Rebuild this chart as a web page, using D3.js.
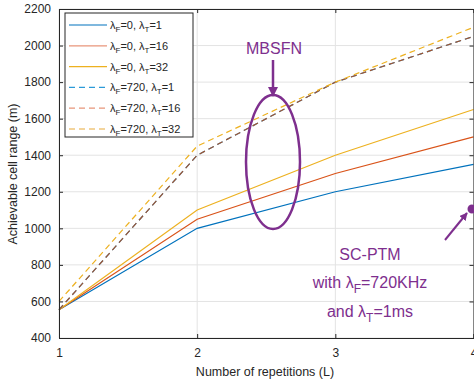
<!DOCTYPE html>
<html>
<head>
<meta charset="utf-8">
<script src="https://cdn.jsdelivr.net/npm/d3@7"></script>
<style>
  body { margin: 0; background: #fff; }
  text { font-family: "Liberation Sans", Arial, sans-serif; }
</style>
</head>
<body>
<svg id="viz"></svg>
<script>
// ----------------------------------------------------------------------------------------------------------------
// DATA

var repetitions = [1, 2, 3, 4];
var yTicks = [400, 600, 800, 1000, 1200, 1400, 1600, 1800, 2000, 2200];

var solidT1 = [555, 1000, 1200, 1350];
var solidT16 = [555, 1050, 1300, 1500];
var solidT32 = [555, 1100, 1400, 1650];
var dashedT1 = [555, 1400, 1800, 2050];
var dashedT16 = [555, 1400, 1800, 2050];
var dashedT32 = [600, 1450, 1800, 2100];

var series = [
  {lf: "0", lt: "1", values: solidT1, color: "#0072BD", legendColor: "#0072BD", dash: null},
  {lf: "0", lt: "16", values: solidT16, color: "#D95319", legendColor: "#E8957A", dash: null},
  {lf: "0", lt: "32", values: solidT32, color: "#EDB120", legendColor: "#EDB120", dash: null},
  {lf: "720", lt: "1", values: dashedT1, color: "#2C9AD8", legendColor: "#2C9AD8", dash: "6,4"},
  {lf: "720", lt: "16", values: dashedT16, color: "#A2542F", legendColor: "#E8957A", dash: "6,4"},
  {lf: "720", lt: "32", values: dashedT32, color: "#EDB120", legendColor: "#E8A93A", dash: "6,4"}
];

// ----------------------------------------------------------------------------------------------------------------
// INITIAL SETUP

var w = 474;
var h = 381;
var viz = d3.select("#viz").attr("width", w).attr("height", h);

var x = d3.scaleLinear().domain([1, 4]).range([59, 473.5]);
var y = d3.scaleLinear().domain([400, 2200]).range([338, 9]);
var purple = "#7E2F8E";

// grid
viz.append("g").selectAll("line.gx").data(repetitions).enter().append("line")
  .attr("x1", function(d) { return x(d); }).attr("x2", function(d) { return x(d); })
  .attr("y1", y(400)).attr("y2", y(2200))
  .attr("stroke", "#e3e3e3").attr("stroke-width", 1);
viz.append("g").selectAll("line.gy").data(yTicks).enter().append("line")
  .attr("x1", x(1)).attr("x2", x(4))
  .attr("y1", function(d) { return y(d); }).attr("y2", function(d) { return y(d); })
  .attr("stroke", "#e3e3e3").attr("stroke-width", 1);

// lines
var line = d3.line()
  .x(function(d, i) { return x(repetitions[i]); })
  .y(function(d) { return y(d); });

viz.append("g").selectAll("path").data(series).enter().append("path")
  .attr("d", function(d) { return line(d.values); })
  .attr("fill", "none")
  .attr("stroke", function(d) { return d.color; })
  .attr("stroke-width", 1.2)
  .attr("stroke-dasharray", function(d) { return d.dash; });

// axes
var xAxis = viz.append("g").attr("transform", "translate(0," + y(400) + ")")
  .call(d3.axisBottom(x).tickValues(repetitions).tickSize(-4).tickPadding(10).tickFormat(d3.format("d")));
var yAxis = viz.append("g").attr("transform", "translate(" + x(1) + ",0)")
  .call(d3.axisLeft(y).tickValues(yTicks).tickSize(-4).tickPadding(8).tickFormat(d3.format("d")));
var xTop = viz.append("g").attr("transform", "translate(0," + y(2200) + ")")
  .call(d3.axisTop(x).tickValues(repetitions).tickSize(-4).tickFormat(""));
var yRight = viz.append("g").attr("transform", "translate(" + x(4) + ",0)")
  .call(d3.axisRight(y).tickValues(yTicks).tickSize(-4).tickFormat(""));

[xAxis, yAxis, xTop, yRight].forEach(function(a) {
  a.selectAll("path").attr("stroke", "#262626").attr("stroke-width", 1);
  a.selectAll("line").attr("stroke", "#262626");
  a.selectAll("text").attr("fill", "#262626").style("font-size", "12px")
    .style("font-family", "Liberation Sans, Arial, sans-serif");
});

viz.append("text").attr("x", 265).attr("y", 376).attr("text-anchor", "middle")
  .attr("fill", "#262626").style("font-size", "12.5px").text("Number of repetitions (L)");
viz.append("text").attr("transform", "translate(17,174) rotate(-90)").attr("text-anchor", "middle")
  .attr("fill", "#262626").style("font-size", "12.5px").text("Achievable cell range (m)");

// legend
var legend = viz.append("g");
legend.append("rect").attr("x", 65).attr("y", 13).attr("width", 128).attr("height", 124)
  .attr("fill", "#fff").attr("stroke", "#262626").attr("stroke-width", 1);

var entries = legend.selectAll("g.entry").data(series).enter().append("g")
  .attr("transform", function(d, i) { return "translate(0," + (25 + i * 20.8) + ")"; });
entries.append("line").attr("x1", 69).attr("x2", 107).attr("y1", 0).attr("y2", 0)
  .attr("stroke", function(d) { return d.legendColor; })
  .attr("stroke-width", 1.2)
  .attr("stroke-dasharray", function(d) { return d.dash; });
var lt = entries.append("text").attr("x", 110).attr("y", 4).attr("fill", "#262626").style("font-size", "11px");
lt.append("tspan").text("\u03bb");
lt.append("tspan").attr("dy", 3).style("font-size", "8px").text("F");
lt.append("tspan").attr("dy", -3).text(function(d) { return "=" + d.lf + ", \u03bb"; });
lt.append("tspan").attr("dy", 3).style("font-size", "8px").text("T");
lt.append("tspan").attr("dy", -3).text(function(d) { return "=" + d.lt; });

// annotations
var defs = viz.append("defs");
defs.append("marker").attr("id", "ah").attr("viewBox", "0 0 10 10").attr("refX", 9).attr("refY", 5)
  .attr("markerWidth", 4).attr("markerHeight", 4).attr("orient", "auto")
  .append("path").attr("d", "M0,0 L10,5 L0,10 z").attr("fill", purple);

viz.append("text").attr("x", 274).attr("y", 54).attr("text-anchor", "middle")
  .attr("fill", purple).style("font-size", "16px").text("MBSFN");
viz.append("line").attr("x1", 273).attr("x2", 273).attr("y1", 60).attr("y2", 96)
  .attr("stroke", purple).attr("stroke-width", 2.5).attr("marker-end", "url(#ah)");
viz.append("ellipse").attr("cx", 273).attr("cy", 162).attr("rx", 27).attr("ry", 67)
  .attr("fill", "none").attr("stroke", purple).attr("stroke-width", 2.5);

viz.append("circle").attr("cx", 472).attr("cy", 209).attr("r", 4.5).attr("fill", purple);
viz.append("line").attr("x1", 445).attr("x2", 467).attr("y1", 240).attr("y2", 213)
  .attr("stroke", purple).attr("stroke-width", 2).attr("marker-end", "url(#ah)");

var ann = viz.append("g").attr("fill", purple).style("font-size", "16px").attr("text-anchor", "middle");
ann.append("text").attr("x", 370).attr("y", 260).text("SC-PTM");
var a2 = ann.append("text").attr("x", 370).attr("y", 288);
a2.append("tspan").text("with \u03bb");
a2.append("tspan").attr("dy", 5).style("font-size", "12px").text("F");
a2.append("tspan").attr("dy", -5).text("=720KHz");
var a3 = ann.append("text").attr("x", 370).attr("y", 317);
a3.append("tspan").text("and \u03bb");
a3.append("tspan").attr("dy", 5).style("font-size", "12px").text("T");
a3.append("tspan").attr("dy", -5).text("=1ms");
</script>
</body>
</html>
